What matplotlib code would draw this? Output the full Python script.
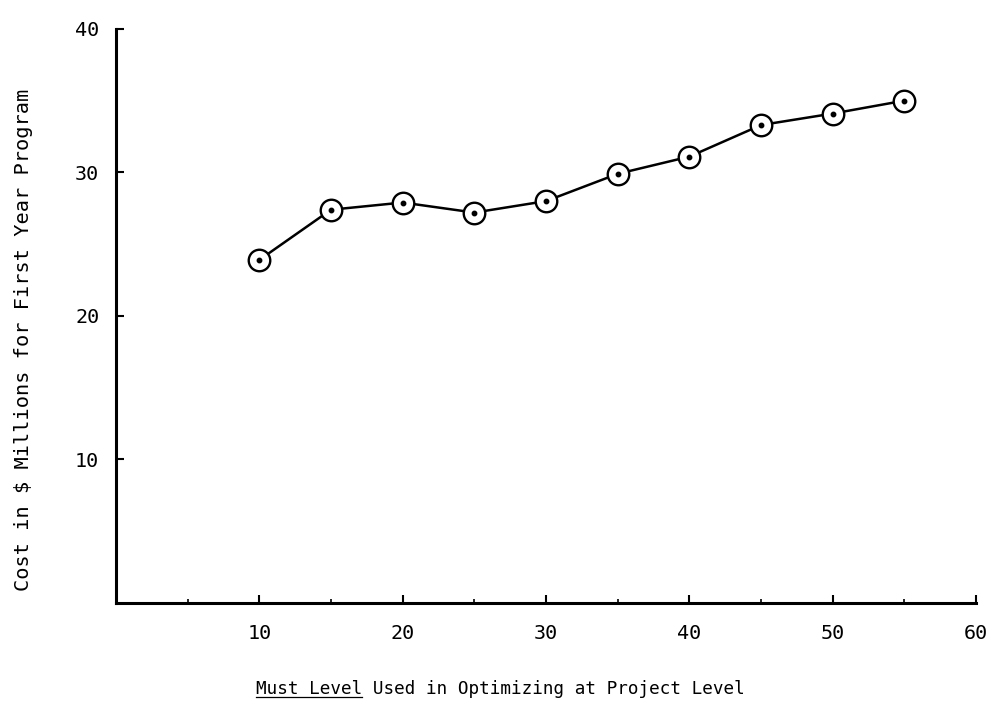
import numpy as np
import matplotlib
matplotlib.use("Agg")
import matplotlib.pyplot as plt
from matplotlib.ticker import MultipleLocator

# Data
# ------------------------
must_level = [10, 15, 20, 25, 30, 35, 40, 45, 50, 55]
cost = [23.9, 27.4, 27.9, 27.2, 28.0, 29.9, 31.1, 33.3, 34.1, 35.0]

x_ticks = [10, 20, 30, 40, 50, 60]
y_ticks = [10, 20, 30, 40]

plt.rcParams['font.family'] = ['DejaVu Sans Mono']

fig = plt.figure(figsize=(9.91, 7.04), dpi=100)
ax = fig.add_axes([0.117, 0.1435, 0.868, 0.8155])

# Line with open circle markers and centre dots
# ---------------------------------------------
ax.plot(must_level, cost, color='black', linewidth=1.8, zorder=2,
        marker='o', markersize=15.5, markerfacecolor='white',
        markeredgecolor='black', markeredgewidth=1.7)
ax.plot(must_level, cost, linestyle='none', marker='o', markersize=3.2,
        color='black', zorder=3)

ax.set_xlim(0, 60)
ax.set_ylim(0, 40)
ax.set_xticks(x_ticks)
ax.set_yticks(y_ticks)
ax.xaxis.set_minor_locator(MultipleLocator(5))

for side in ['top', 'right']:
    ax.spines[side].set_visible(False)
for side in ['left', 'bottom']:
    ax.spines[side].set_linewidth(2.2)

ax.tick_params(axis='both', which='major', direction='in', length=6, width=1.5,
               labelsize=14.5)
ax.tick_params(axis='x', which='minor', direction='in', length=3, width=1.2)
ax.tick_params(axis='x', which='major', pad=15)
ax.tick_params(axis='y', which='major', pad=12)

# y label placed by hand (sits lower than the axes centre in the original)
fig.text(0.024, 0.517, "Cost in $ Millions for First Year Program",
         rotation=90, ha='center', va='center', fontsize=14.6)

# x label with the first words underlined
# ----------------------------------------
label_text = "Must Level Used in Optimizing at Project Level"
xlab = fig.text(0.505, 0.008, label_text,
                ha='center', va='bottom', fontsize=12.7)
fig.canvas.draw()
bb = xlab.get_window_extent()
char_w = bb.width / len(label_text)
x0 = bb.x0
x1 = bb.x0 + char_w * len("Must Level")
yline = bb.y0 + 1
fig.add_artist(plt.Line2D([x0 / fig.bbox.width, x1 / fig.bbox.width],
                          [yline / fig.bbox.height, yline / fig.bbox.height],
                          color='black', linewidth=0.9))

fig.savefig("out.png", dpi=100)
